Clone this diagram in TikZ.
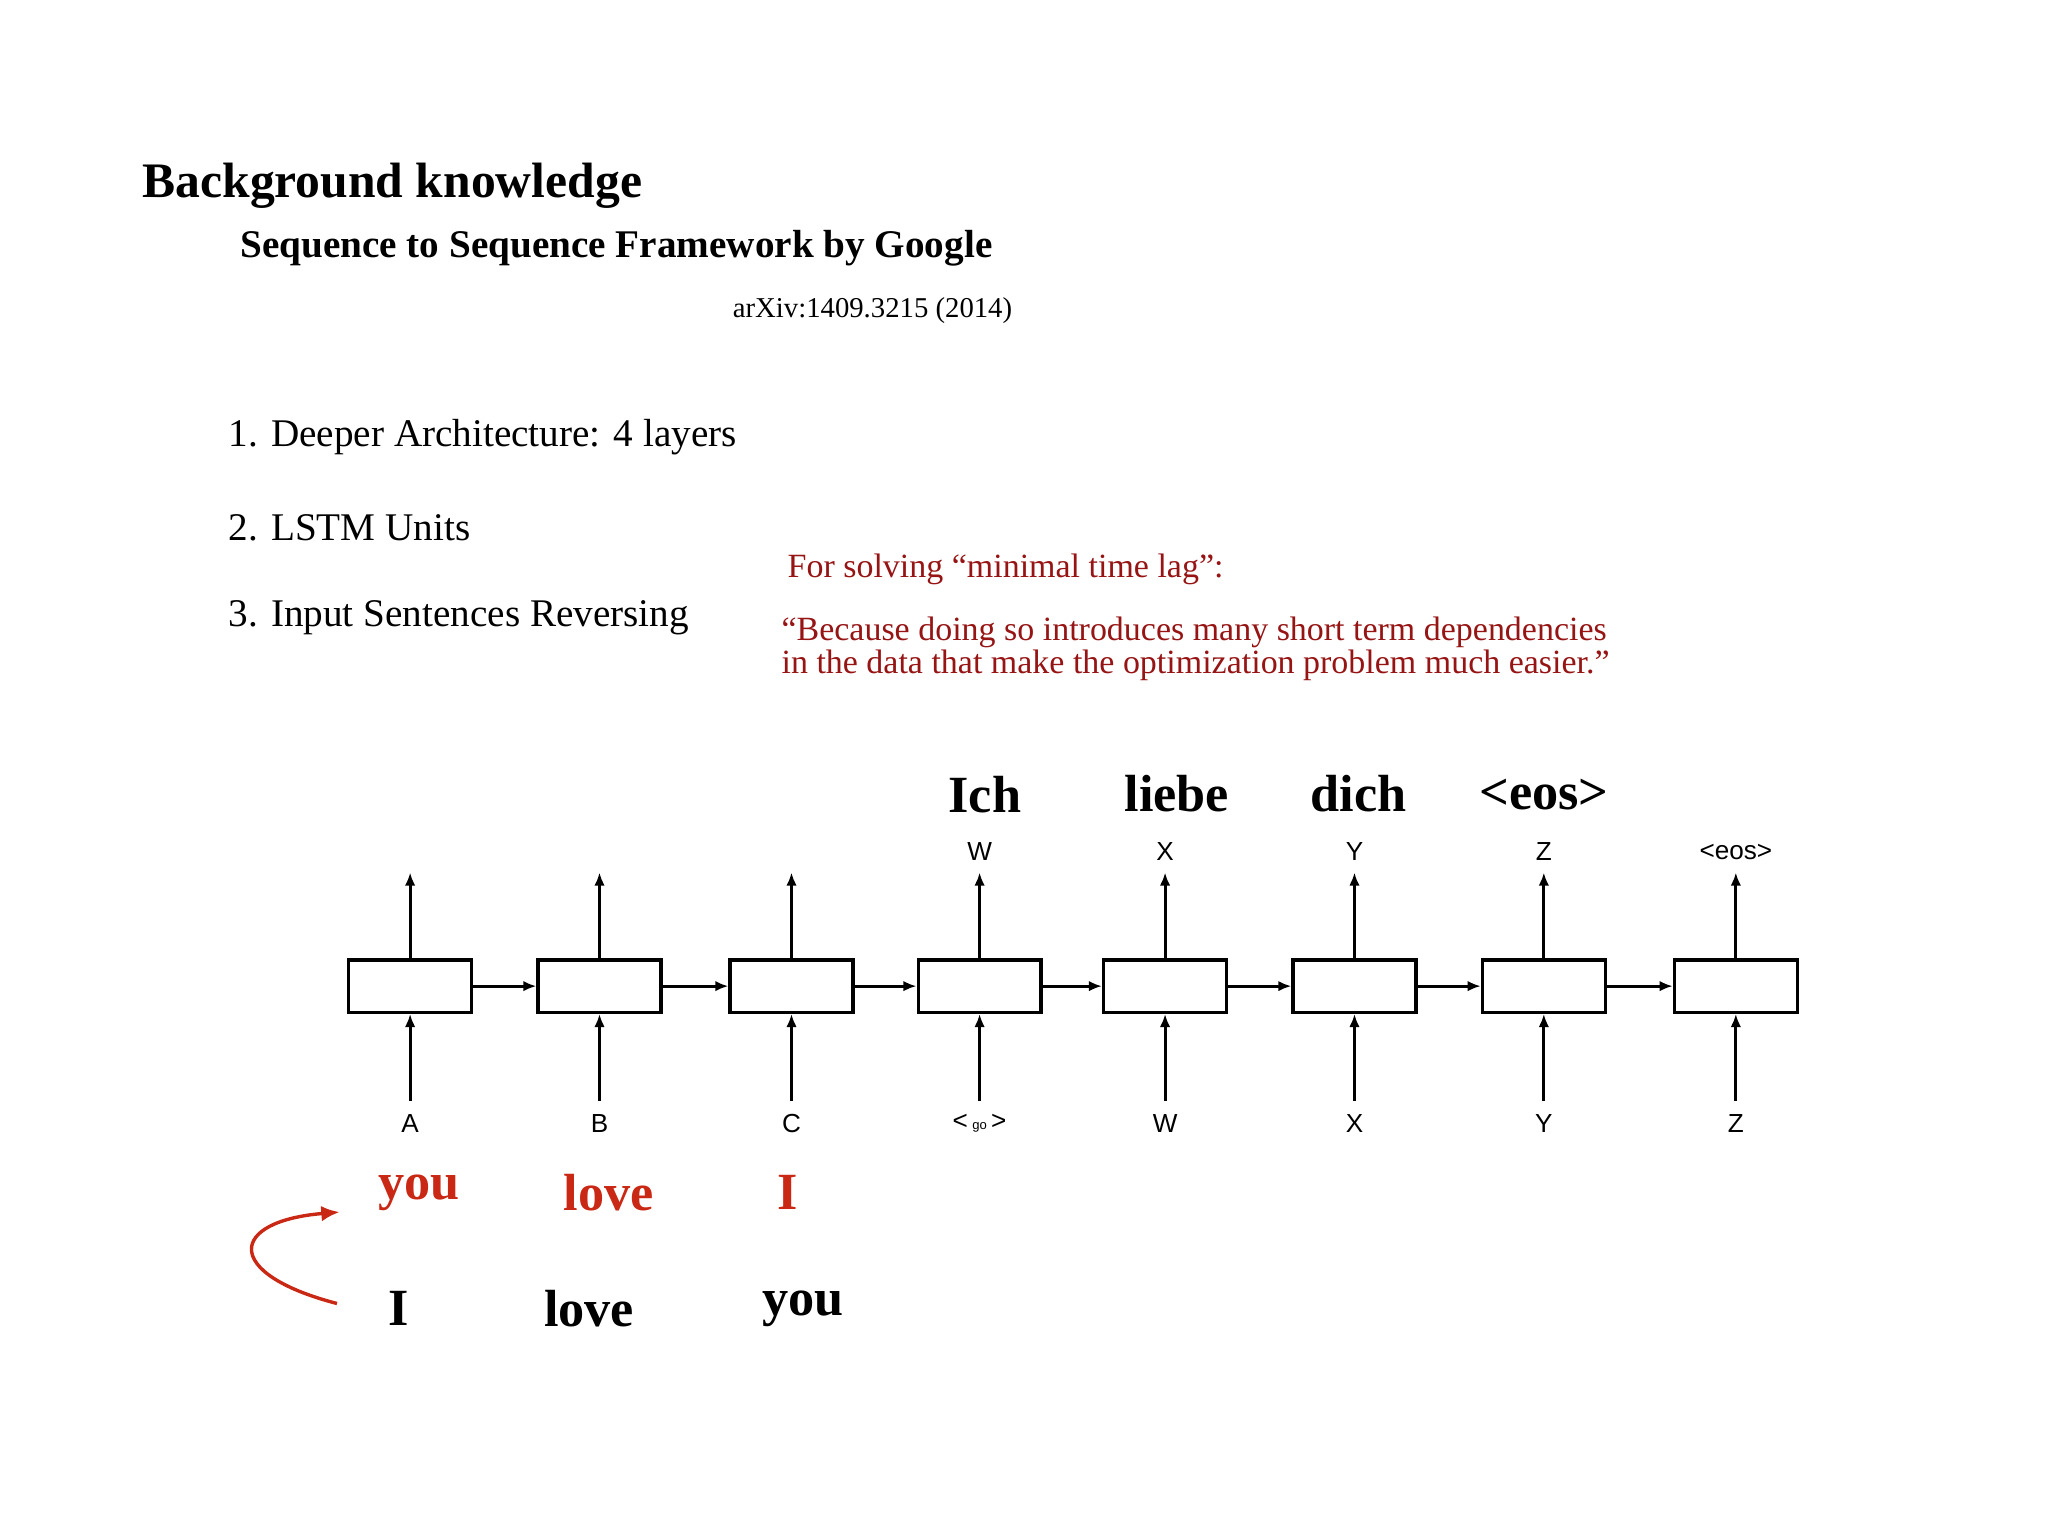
\documentclass[tikz,border=0pt]{standalone}
\usepackage{fontspec}
\setmainfont{Liberation Serif}
\newfontfamily\lsans{Liberation Sans}
\usetikzlibrary{arrows.meta}
\definecolor{dred}{RGB}{150,20,20}
\definecolor{bred}{RGB}{200,40,20}
\tikzset{
 cell/.style={draw,line width=1.3pt,minimum width=47pt,minimum height=20pt,inner sep=0},
 lab/.style={font=\lsans\fontsize{10}{12}\selectfont,inner sep=1pt},
 arr/.style={-{Latex[length=5pt,width=4pt]},line width=1.1pt},
 word/.style={font=\bfseries\fontsize{20}{24}\selectfont},
 rword/.style={word,text=bred},
}
\begin{document}
\begin{tikzpicture}[x=0.5pt,y=-0.5pt]
\useasboundingbox (0,0) rectangle (1568,1176);
\node[anchor=west,font=\bfseries\fontsize{19}{22}\selectfont] (t) at (102,142) {Background knowledge};
\node[anchor=west,font=\bfseries\fontsize{15}{18}\selectfont] (s) at (177,190) {Sequence to Sequence Framework by Google};
\node[anchor=east,font=\fontsize{11}{13}\selectfont] (ax) at (782,238) {arXiv:1409.3215 (2014)};
\node[anchor=west,font=\fontsize{15}{18}\selectfont] (l1) at (168,335) {1. Deeper Architecture: 4 layers};
\node[anchor=west,font=\fontsize{15}{18}\selectfont] (l2) at (168,404) {2. LSTM Units};
\node[anchor=west,font=\fontsize{15}{18}\selectfont] (l3) at (168,473) {3. Input Sentences Reversing};
\node[anchor=west,text=dred,font=\fontsize{13}{15}\selectfont] (r1) at (596,436) {For solving “minimal time lag”:};
\node[anchor=north west,text=dred,font=\fontsize{13}{12.5}\selectfont,align=left,inner sep=0] (r2) at (598,472) {“Because doing so introduces many short term dependencies\\in the data that make the optimization problem much easier.”};
\foreach \i/\x/\inp/\out in {1/314/A/,2/459/B/,3/606/C/,4/750/{<\,{\tiny go}\,>}/W,5/892/W/X,6/1037/X/Y,7/1182/Y/Z,8/1329/Z/{<eos>}}{
 \node[cell] (c\i) at (\x,755) {};
 \node[lab] (in\i) at (\x,860) {\inp};
 \draw[arr] (\x,843) -- (c\i.south);
 \ifx&\out&\else
  \node[lab] (o\i) at (\x,652) {\out};
  \draw[arr] (c\i.north) -- (\x,668);
 \fi
}
\foreach \a/\b in {1/2,2/3,3/4,4/5,5/6,6/7,7/8}{\draw[arr] (c\a) -- (c\b);}
\node[word] (w1) at (754,608) {Ich};
\node[word] (w2) at (901,608) {liebe};
\node[word] (w3) at (1040,608) {dich};
\node[word] (w4) at (1182,608) {<eos>};
\node[rword] (r1w) at (321,913) {you};
\node[rword] (r2w) at (466,913) {love};
\node[rword] (r3w) at (603,913) {I};
\node[word] (b1) at (305,1002) {I};
\node[word] (b2) at (451,1002) {love};
\node[word] (b3) at (615,1002) {you};
\coordinate (cs) at (258,998);
\coordinate (ce) at (260,928);
\draw[-{Latex[length=7pt,width=6pt]},line width=1.3pt,bred] (cs) .. controls (170,975) and (175,935) .. (ce);
\end{tikzpicture}
\end{document}
